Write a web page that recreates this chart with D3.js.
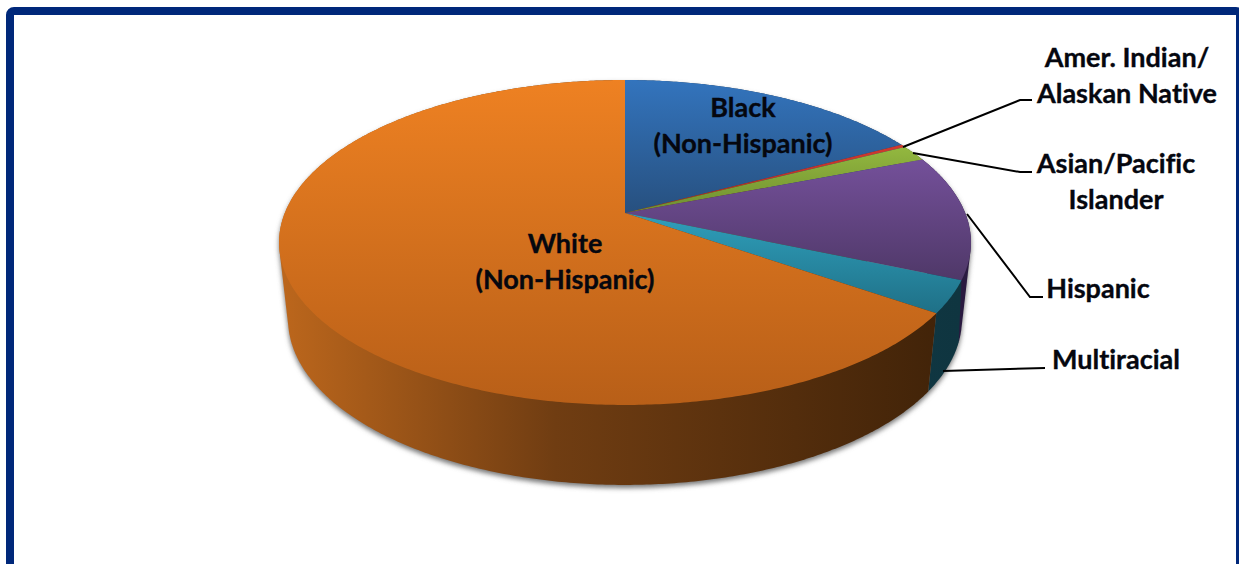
<!DOCTYPE html>
<html>
<head>
<meta charset="utf-8">
<script src="https://cdn.jsdelivr.net/npm/d3@7"></script>
<style>
  html, body { margin: 0; padding: 0; background: #fff; overflow: hidden; }
  text { font-family: Lato, "Open Sans", sans-serif; font-weight: 700; font-size: 27px; fill: #05070f;
         stroke: #05070f; stroke-width: 0.35px; font-variant-ligatures: none; }
</style>
</head>
<body>
<svg width="1239" height="564"></svg>
<script>
// chart values (percent)
var categories = ['Black', 'Amer. Indian', 'Asian', 'Hispanic', 'Multiracial', 'White'];
var values = [17.2, 0.3, 1.6, 12.4, 3.2, 65.3];

// label text, one array per line
var labelLines = [
    ['Black', '(Non-Hispanic)'],
    ['Amer. Indian/', 'Alaskan Native'],
    ['Asian/Pacific', 'Islander'],
    ['Hispanic'],
    ['Multiracial'],
    ['White', '(Non-Hispanic)']
];

// styles
var topColors = [['#3374bd', '#27507f'], ['#d0392f', '#a82e26'], ['#93b83f', '#6f8e30'],
    ['#74509a', '#4f3868'], ['#2f9fbb', '#1f7087'], ['#ee8122', '#b85f18']];
var wallColors = [['#1c3a5c', '#1c3a5c', '#1c3a5c'], ['#7a1f1a', '#7a1f1a', '#7a1f1a'], ['#55682a', '#55682a', '#55682a'],
    ['#2e1c44', '#2e1c44', '#2a1a40'], ['#14414d', '#14414d', '#0f3540'], ['#bb661c', '#703d12', '#3f2208']];
var wallStops = [0, 0.4, 1];

// layout
var labelPos = [[743, 117], [1127, 67], [1116, 173], [1098, 298], [1116, 369], [565, 253]];
var leaders = [
    [[903, 147], [1020, 100], [1032, 100]],
    [[913, 153], [1020, 172], [1032, 172]],
    [[967, 214], [1030, 297], [1043, 297]],
    [[943, 371], [1045, 368]]
];
var lineHeight = 36;

var svg = d3.select('svg');
var defs = svg.append('defs');

// disk projection: apex sits above the centre of the rim ellipse
var cx = 625, cy = 213;
var a = 340.2, b = 157.1, p = 0.1815;
var wallShrink = 0.974, wallDepth = 80, wallTaper = 0.02, frontY = 405;

var pie = d3.pie().sort(null).value(function(d) { return d; });
var arcs = pie(values);
var line = d3.line();

// the lower edge of the Hispanic wall ends a little earlier than its top edge
var bottomWarp = d3.scaleLinear()
    .domain([0, arcs[3].endAngle, arcs[4].endAngle, 2 * Math.PI])
    .range([0, arcs[3].endAngle - 0.09, arcs[4].endAngle, 2 * Math.PI]);

function rim(angle) {
    var u = Math.sin(angle), v = -Math.cos(angle);
    var s = 1 - p * v;
    return [cx + a * u / s, cy + b * v / s];
}
function rimBottom(angle) {
    var t = rim(bottomWarp(angle));
    return [cx + wallShrink * (t[0] - cx), t[1] + wallDepth + wallTaper * (t[1] - frontY)];
}
function steps(a0, a1) {
    var n = Math.max(2, Math.ceil((a1 - a0) / 0.01));
    return d3.range(n + 1).map(function(i) { return a0 + (a1 - a0) * i / n; });
}

// gradients
arcs.forEach(function(d, i) {
    var g = defs.append('linearGradient').attr('id', 'top' + i)
        .attr('x1', 0).attr('x2', 0).attr('y1', 0).attr('y2', 1);
    g.append('stop').attr('offset', 0).attr('stop-color', topColors[i][0]);
    g.append('stop').attr('offset', 1).attr('stop-color', topColors[i][1]);

    var w = defs.append('linearGradient').attr('id', 'wall' + i)
        .attr('gradientUnits', 'userSpaceOnUse')
        .attr('x1', 285).attr('x2', 960).attr('y1', 0).attr('y2', 0);
    wallStops.forEach(function(s, j) {
        w.append('stop').attr('offset', s).attr('stop-color', wallColors[i][j]);
    });
});

var blur = defs.append('filter').attr('id', 'shadow')
    .attr('x', '-5%').attr('y', '-5%').attr('width', '110%').attr('height', '110%');
blur.append('feGaussianBlur').attr('stdDeviation', 2.5);

// hull, so the side silhouette runs straight from the top rim to the bottom rim
function wallPath(d) {
    var pts = steps(d.startAngle, d.endAngle);
    return line(d3.polygonHull(pts.map(rim).concat(pts.map(rimBottom)))) + 'Z';
}
function topPath(d) {
    var pts = steps(d.startAngle, d.endAngle).map(rim);
    return line([[cx, cy]].concat(pts)) + 'Z';
}

// soft shadow under the pie
svg.append('path')
    .attr('d', wallPath({startAngle: 0, endAngle: 2 * Math.PI}))
    .attr('transform', 'translate(0,3)')
    .attr('fill', '#777')
    .attr('filter', 'url(#shadow)');

// walls, then top face
svg.append('g').selectAll('path').data(arcs).enter().append('path')
    .attr('d', wallPath)
    .attr('fill', function(d, i) { return 'url(#wall' + i + ')'; });

svg.append('g').selectAll('path').data(arcs).enter().append('path')
    .attr('d', topPath)
    .attr('fill', function(d, i) { return 'url(#top' + i + ')'; });

// leader lines
svg.append('g').selectAll('path').data(leaders).enter().append('path')
    .attr('d', function(d) { return line(d); })
    .attr('fill', 'none')
    .attr('stroke', '#000')
    .attr('stroke-width', 2);

// labels
var labels = svg.append('g').selectAll('text').data(categories).enter().append('text')
    .attr('text-anchor', 'middle')
    .attr('transform', function(d, i) { return 'translate(' + labelPos[i] + ')'; });
labels.selectAll('tspan').data(function(d, i) { return labelLines[i]; }).enter().append('tspan')
    .attr('x', 0)
    .attr('y', function(d, i) { return i * lineHeight; })
    .text(function(d) { return d; });

// frame, runs off the bottom and right of the page
svg.append('rect')
    .attr('x', 10).attr('y', 11)
    .attr('width', 1230).attr('height', 600)
    .attr('rx', 4)
    .attr('fill', 'none')
    .attr('stroke', '#00287a')
    .attr('stroke-width', 8);
</script>
</body>
</html>
